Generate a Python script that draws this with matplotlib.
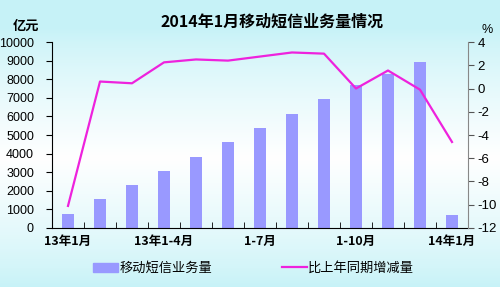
import numpy as np
import matplotlib.pyplot as plt
from matplotlib.lines import Line2D
from matplotlib.patches import Patch

plt.rcParams['font.family'] = ['Noto Sans CJK SC', 'DejaVu Sans']
plt.rcParams['axes.unicode_minus'] = False
num_font = ['Liberation Sans', 'DejaVu Sans']

months = ['13年1月', '1-2月', '1-3月', '13年1-4月', '1-5月', '1-6月', '1-7月',
          '1-8月', '1-9月', '1-10月', '1-11月', '1-12月', '14年1月']
volume = [750, 1560, 2310, 3060, 3820, 4620, 5400, 6150, 6935, 7690, 8280, 8925, 700]
growth = [-10.1, 0.6, 0.45, 2.25, 2.5, 2.4, 2.75, 3.1, 3.0, 0.0, 1.55, -0.1, -4.6]
shown = [0, 3, 6, 9, 12]

fig = plt.figure(figsize=(5, 2.87), dpi=100)

# background gradient: cyan at top and bottom, white in the middle
bg = fig.add_axes([0, 0, 1, 1], zorder=-10)
t = np.linspace(0, 1, 256)
w = np.clip(1 - np.abs(t - 0.55) / 0.45, 0, 1) ** 0.8
c0 = np.array([0.78, 0.95, 0.97])
cols = c0[None, :] * (1 - w[:, None]) + np.ones(3)[None, :] * w[:, None]
bg.imshow(cols[:, None, :], aspect='auto', extent=[0, 1, 0, 1], origin='upper')
bg.axis('off')

ax = fig.add_axes([0.104, 0.2056, 0.832, 0.648])
ax.patch.set_alpha(0)
x = np.arange(len(months))
ax.bar(x, volume, width=0.38, color='#9999ff', zorder=2)
ax.set_xlim(-0.5, len(months) - 0.5)
ax.set_ylim(0, 10000)
ax.set_yticks(np.arange(0, 10001, 1000))
ax.tick_params(axis='y', length=4, colors='black', pad=9)
for lb in ax.get_yticklabels():
    lb.set_family(num_font)
    lb.set_fontsize(9)
ax.set_xticks(x[shown])
ax.set_xticklabels([months[i] for i in shown], fontweight='bold', fontsize=9)
ax.set_xticks(np.arange(-0.5, len(months), 1), minor=True)
ax.tick_params(axis='x', which='major', length=0, pad=5)
ax.tick_params(axis='x', which='minor', direction='in', length=4)
for s in ['top', 'right']:
    ax.spines[s].set_visible(False)

ax2 = ax.twinx()
ax2.plot(x, growth, color='#ee22dd', lw=1.6, zorder=3)
ax2.set_ylim(-12, 4)
ax2.set_yticks(np.arange(-12, 5, 2))
ax2.tick_params(axis='y', length=4, colors='#555555', labelcolor='black', pad=3)
for lb in ax2.get_yticklabels():
    lb.set_family(num_font)
    lb.set_fontsize(9.5)
ax2.spines['right'].set_color('#888888')
for s in ['top', 'left', 'bottom']:
    ax2.spines[s].set_visible(False)

fig.text(0.544, 0.923, '2014年1月移动短信业务量情况', ha='center', va='center',
         fontsize=11.5, fontweight='bold')
fig.text(0.053, 0.91, '亿元', ha='center', va='center', fontsize=9.5, fontweight='bold')
fig.text(0.975, 0.895, '%', ha='center', va='center', fontsize=9, family=num_font)

handles = [Patch(color='#9999ff'), Line2D([], [], color='#ee22dd', lw=1.6)]
fig.legend(handles, ['移动短信业务量', '比上年同期增减量'], loc='center',
           bbox_to_anchor=(0.507, 0.065), ncol=2, frameon=False, fontsize=9.5,
           columnspacing=5.3, handlelength=1.9, handletextpad=0.1)

fig.savefig('out.png', dpi=100)
